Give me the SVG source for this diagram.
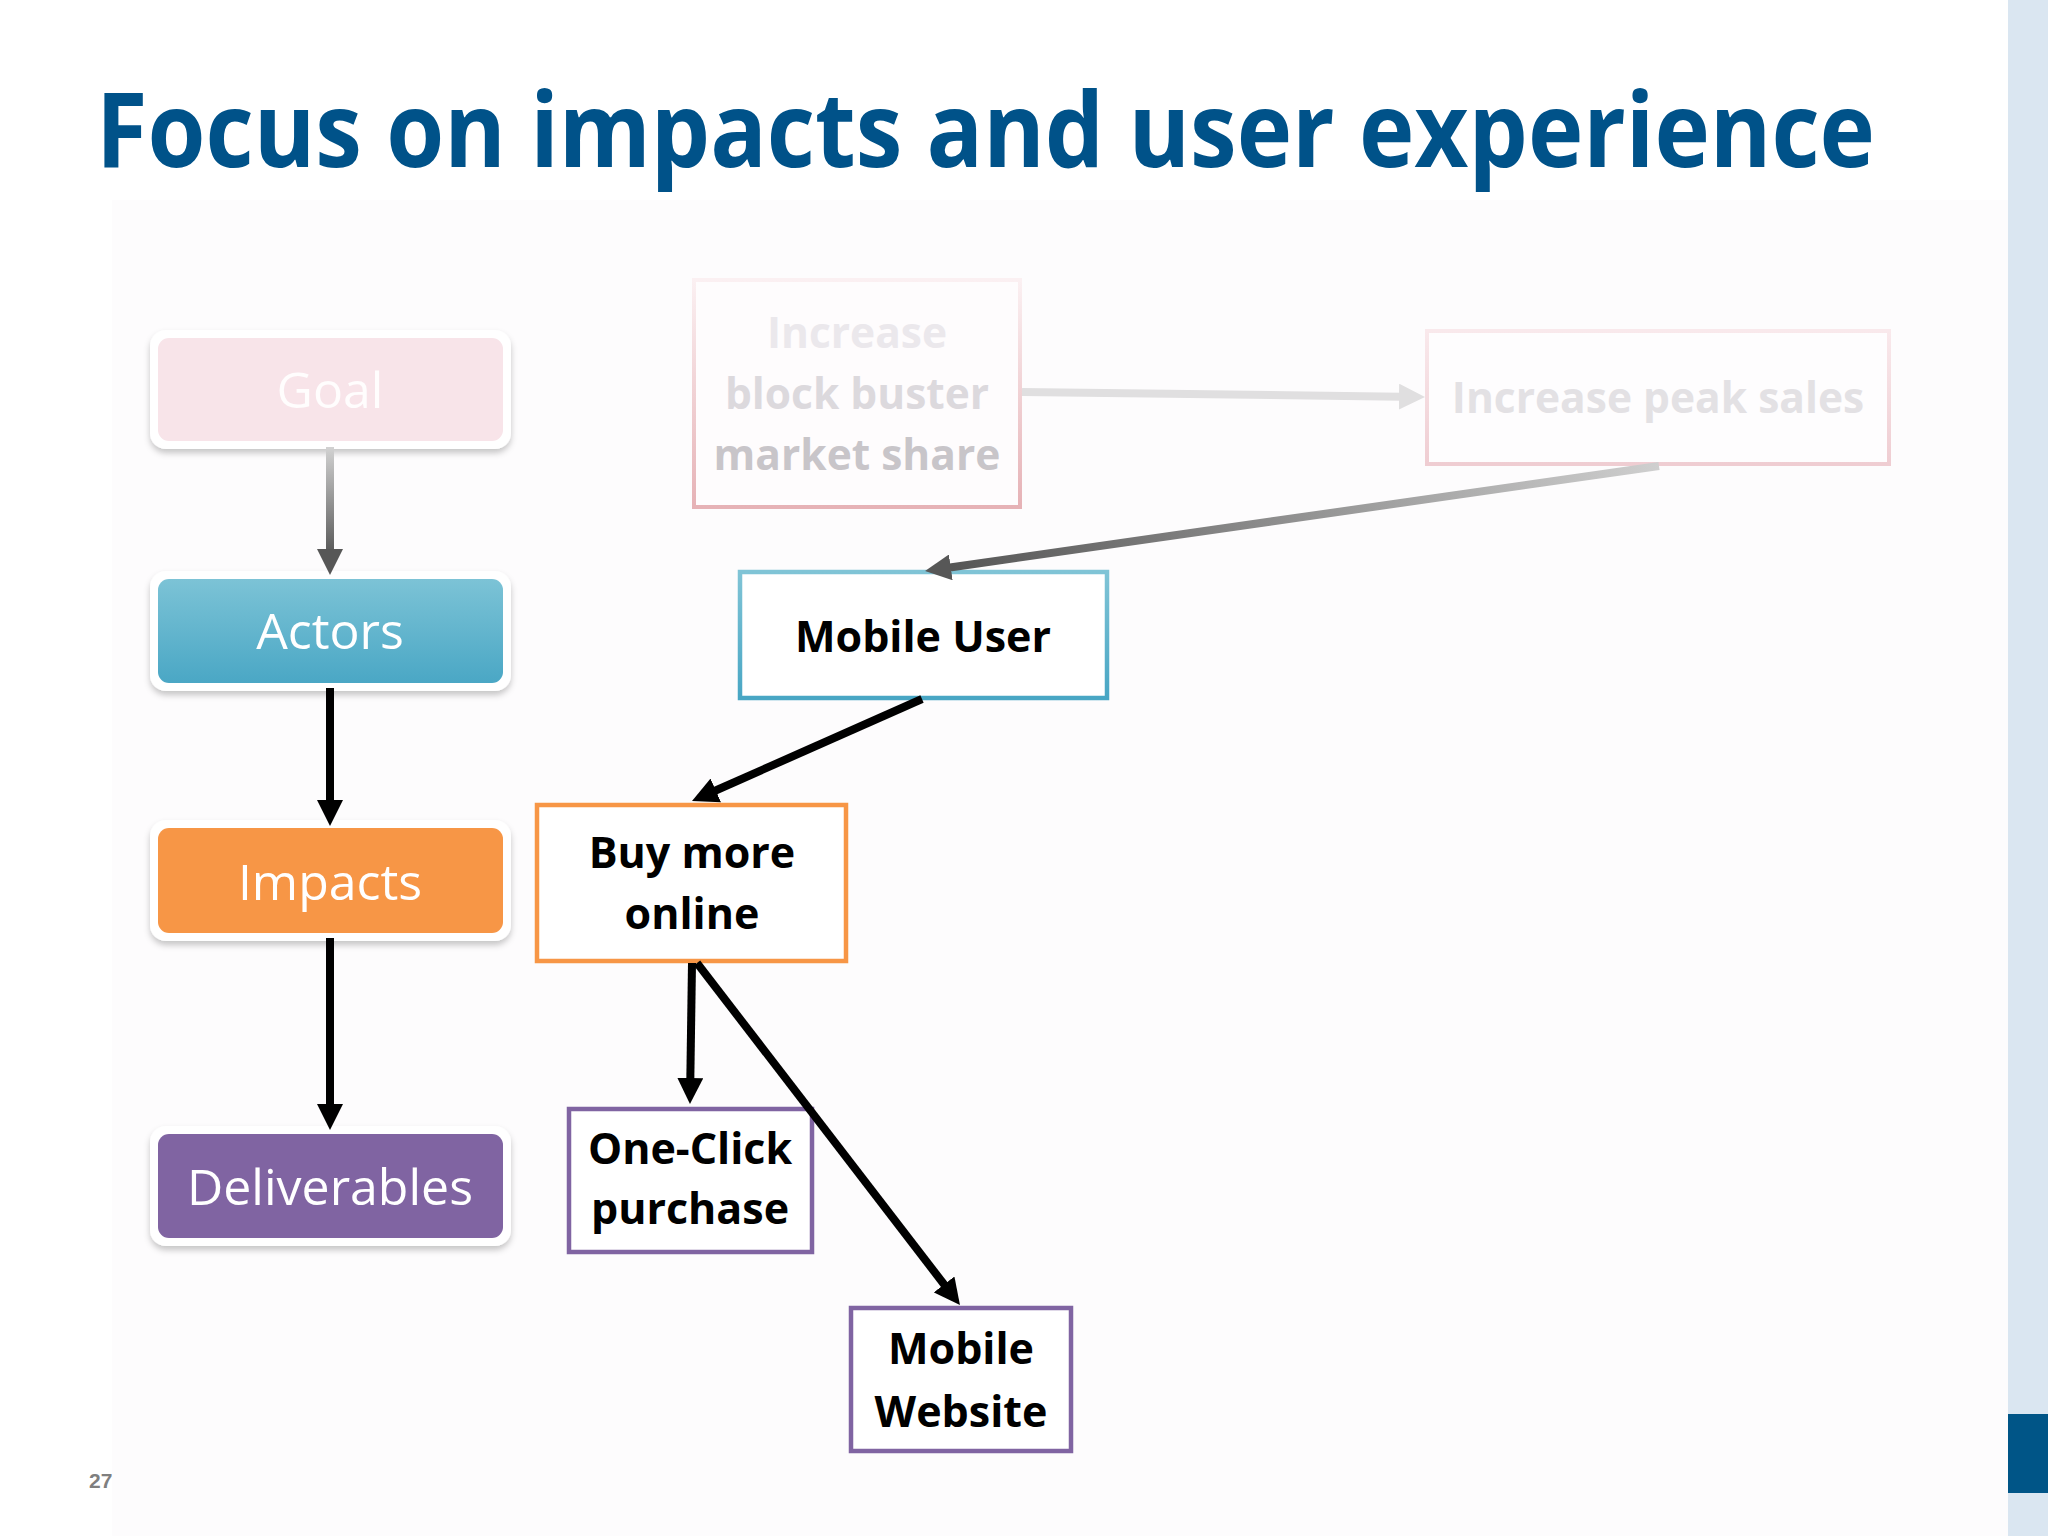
<svg xmlns="http://www.w3.org/2000/svg" width="2048" height="1536" viewBox="0 0 2048 1536">
<defs>
<style>
.lbl{font-family:"Open Sans","DejaVu Sans",sans-serif;font-size:50px;fill:#ffffff;text-anchor:middle}
.bx{font-family:"Open Sans","DejaVu Sans",sans-serif;font-weight:bold;font-size:43px;fill:#000000;text-anchor:middle}
.ghost{font-family:"Open Sans","DejaVu Sans",sans-serif;font-weight:bold;font-size:42.5px;text-anchor:middle}
.frame{fill:#ffffff;filter:url(#sh)}
.edge{fill:none;stroke-width:8}
</style>
<filter id="sh" x="-10%" y="-20%" width="120%" height="150%">
<feDropShadow dx="0" dy="4" stdDeviation="3" flood-color="#000000" flood-opacity="0.22"/>
</filter>
<linearGradient id="gActors" x1="0" y1="0" x2="0" y2="1">
<stop offset="0" stop-color="#7cc3d6"/><stop offset="1" stop-color="#4aa7c5"/>
</linearGradient>
<linearGradient id="gMU" x1="0" y1="0" x2="0" y2="1">
<stop offset="0" stop-color="#80c4d6"/><stop offset="1" stop-color="#48a6c4"/>
</linearGradient>
<linearGradient id="gB1" x1="0" y1="0" x2="0" y2="1">
<stop offset="0" stop-color="#fbf0f2"/><stop offset="1" stop-color="#e6b2b6"/>
</linearGradient>
<linearGradient id="gB2" x1="0" y1="0" x2="0" y2="1">
<stop offset="0" stop-color="#f9e9ec"/><stop offset="1" stop-color="#efcdd2"/>
</linearGradient>
<linearGradient id="gA1" gradientUnits="userSpaceOnUse" x1="330" y1="447" x2="330" y2="552">
<stop offset="0" stop-color="#d2d2d2"/><stop offset="1" stop-color="#5a5a5a"/>
</linearGradient>
<linearGradient id="gA5" gradientUnits="userSpaceOnUse" x1="1659" y1="466" x2="948" y2="568">
<stop offset="0" stop-color="#cfcfcf"/><stop offset="1" stop-color="#555555"/>
</linearGradient>
<marker id="mBlack" viewBox="0 0 10 10" refX="1" refY="5" markerWidth="3.25" markerHeight="3.25" orient="auto" markerUnits="strokeWidth">
<path d="M0,0 L10,5 L0,10 z" fill="#000000"/>
</marker>
<marker id="mDark" viewBox="0 0 10 10" refX="1" refY="5" markerWidth="3.25" markerHeight="3.25" orient="auto" markerUnits="strokeWidth">
<path d="M0,0 L10,5 L0,10 z" fill="#575757"/>
</marker>
<marker id="mLight" viewBox="0 0 10 10" refX="1" refY="5" markerWidth="3.25" markerHeight="3.25" orient="auto" markerUnits="strokeWidth">
<path d="M0,0 L10,5 L0,10 z" fill="#e0dfe0"/>
</marker>
</defs>

<rect x="0" y="0" width="2048" height="1536" fill="#ffffff"/>
<rect x="112" y="200" width="1896" height="1336" fill="#fdfcfd"/>
<rect x="2008" y="0" width="40" height="1536" fill="#dae6f1"/>
<rect x="2008" y="1414" width="40" height="79" fill="#005587"/>

<text x="96" y="167" font-family="'Open Sans','DejaVu Sans',sans-serif" font-weight="bold" font-size="104" fill="#005289" textLength="1779" lengthAdjust="spacingAndGlyphs">Focus on impacts and user experience</text>

<g id="goal">
<rect class="frame" x="150" y="330" width="361" height="119" rx="16"/>
<rect x="158" y="338" width="345" height="103" rx="11" fill="#f8e4e9"/>
<text class="lbl" x="330" y="408" fill-opacity="0.9">Goal</text>
</g>
<g id="actors">
<rect class="frame" x="150" y="571" width="361" height="120" rx="16"/>
<rect x="158" y="579" width="345" height="104" rx="11" fill="url(#gActors)"/>
<text class="lbl" x="330" y="649">Actors</text>
</g>
<g id="impacts">
<rect class="frame" x="150" y="820" width="361" height="121" rx="16"/>
<rect x="158" y="828" width="345" height="105" rx="11" fill="#f79646"/>
<text class="lbl" x="330" y="900">Impacts</text>
</g>
<g id="deliverables">
<rect class="frame" x="150" y="1126" width="361" height="120" rx="16"/>
<rect x="158" y="1134" width="345" height="104" rx="11" fill="#8064a2"/>
<text class="lbl" x="330" y="1205">Deliverables</text>
</g>

<g id="increase-market-share">
<rect x="694" y="280" width="326" height="227" fill="#fefcfd" stroke="url(#gB1)" stroke-width="4"/>
<text class="ghost" x="857" y="348" fill="#ebe8ec">Increase</text>
<text class="ghost" x="857" y="409" fill="#dcd9dd">block buster</text>
<text class="ghost" x="857" y="470" fill="#c8c5c9">market share</text>
</g>
<g id="increase-peak-sales">
<rect x="1427" y="331" width="462" height="133" fill="#fefdfe" stroke="url(#gB2)" stroke-width="4"/>
<text class="ghost" x="1658" y="413" fill="#e3e1e4">Increase peak sales</text>
</g>
<g id="mobile-user">
<rect x="740" y="572" width="367" height="126" fill="#ffffff" stroke="url(#gMU)" stroke-width="4.5"/>
<text class="bx" x="923" y="652">Mobile User</text>
</g>
<g id="buy-more-online">
<rect x="537" y="805" width="309" height="156" fill="#ffffff" stroke="#f79646" stroke-width="4.5"/>
<text class="bx" x="692" y="868">Buy more</text>
<text class="bx" x="692" y="929">online</text>
</g>
<g id="one-click-purchase">
<rect x="569" y="1109" width="243" height="143" fill="#ffffff" stroke="#8064a2" stroke-width="4.5"/>
<text class="bx" x="690" y="1164">One-Click</text>
<text class="bx" x="690" y="1224">purchase</text>
</g>
<g id="mobile-website">
<rect x="851" y="1308" width="220" height="143" fill="#ffffff" stroke="#8064a2" stroke-width="4.5"/>
<text class="bx" x="961" y="1364">Mobile</text>
<text class="bx" x="961" y="1427">Website</text>
</g>

<g id="connectors">
<path class="edge" d="M330,447 L330,551.6" stroke="url(#gA1)" marker-end="url(#mDark)"/>
<path class="edge" d="M330,688 L330,802.6" stroke="#000000" marker-end="url(#mBlack)"/>
<path class="edge" d="M330,938 L330,1106.6" stroke="#000000" marker-end="url(#mBlack)"/>
<path class="edge" d="M1022,392 L1401.6,396.7" stroke="#e0dfe0" marker-end="url(#mLight)"/>
<path class="edge" d="M1659,466 L948.2,567.7" stroke="url(#gA5)" marker-end="url(#mDark)"/>
<path class="edge" d="M922,699 L713.4,791.5" stroke="#000000" marker-end="url(#mBlack)"/>
<path class="edge" d="M692,963 L690.3,1080.6" stroke="#000000" marker-end="url(#mBlack)"/>
<path class="edge" d="M697,963 L945.7,1286.5" stroke="#000000" marker-end="url(#mBlack)"/>
</g>

<text x="89" y="1488" font-family="'Liberation Sans',Arial,sans-serif" font-weight="bold" font-size="21" fill="#7f7f7f">27</text>
</svg>
